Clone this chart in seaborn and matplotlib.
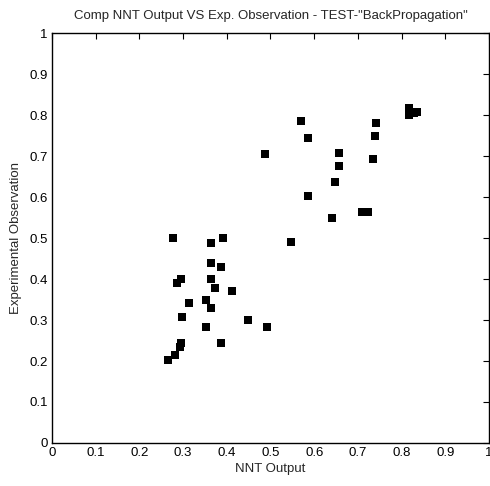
import matplotlib
matplotlib.use("Agg")
import matplotlib.pyplot as plt
import seaborn as sns
import pandas as pd

nnt_output = [0.278, 0.365, 0.391, 0.546, 0.363, 0.386, 0.296, 0.287, 0.363, 0.372,
              0.413, 0.313, 0.352, 0.363, 0.298, 0.352, 0.449, 0.493, 0.296, 0.292,
              0.386, 0.282, 0.266,
              0.569, 0.586, 0.488, 0.657, 0.657, 0.648, 0.586, 0.710, 0.724, 0.641,
              0.741, 0.738, 0.735,
              0.816, 0.816, 0.828, 0.836]
exp_observation = [0.499, 0.489, 0.501, 0.491, 0.438, 0.430, 0.401, 0.390, 0.401, 0.377,
                   0.371, 0.342, 0.349, 0.330, 0.307, 0.284, 0.299, 0.284, 0.244, 0.234,
                   0.243, 0.215, 0.202,
                   0.786, 0.743, 0.705, 0.708, 0.676, 0.637, 0.602, 0.564, 0.564, 0.550,
                   0.781, 0.750, 0.693,
                   0.818, 0.800, 0.805, 0.807]
ticks = [0, 0.1, 0.2, 0.3, 0.4, 0.5, 0.6, 0.7, 0.8, 0.9, 1]
tick_labels = ["0", "0.1", "0.2", "0.3", "0.4", "0.5", "0.6", "0.7", "0.8", "0.9", "1"]

sns.set_style("white")
plt.rcParams['font.family'] = ['Liberation Sans', 'DejaVu Sans']

df = pd.DataFrame({"x": nnt_output, "y": exp_observation})

fig = plt.figure(figsize=(4.9, 4.86), dpi=100)
ax = fig.add_axes([0.106, 0.0885, 0.892, 0.8435])
sns.scatterplot(data=df, x="x", y="y", marker="s", color="black", s=28,
                edgecolor="black", linewidth=0, ax=ax)
ax.set_xlim(0, 1)
ax.set_ylim(0, 1)
ax.set_xticks(ticks)
ax.set_xticklabels(tick_labels)
ax.set_yticks(ticks)
ax.set_yticklabels(tick_labels)
ax.tick_params(direction="in", length=4, width=0.8, top=True, right=True,
               labelsize=9.5, pad=3, colors="black")
for sp in ax.spines.values():
    sp.set_visible(True)
    sp.set_color("black")
    sp.set_linewidth(1.0)
ax.set_xlabel("NNT Output", fontsize=9.5, labelpad=3)
ax.set_ylabel("Experimental Observation", fontsize=9.5, labelpad=5)
ax.set_title('Comp NNT Output VS Exp. Observation - TEST-"BackPropagation"', fontsize=9.5, pad=10)
fig.savefig("out.png", dpi=100)
